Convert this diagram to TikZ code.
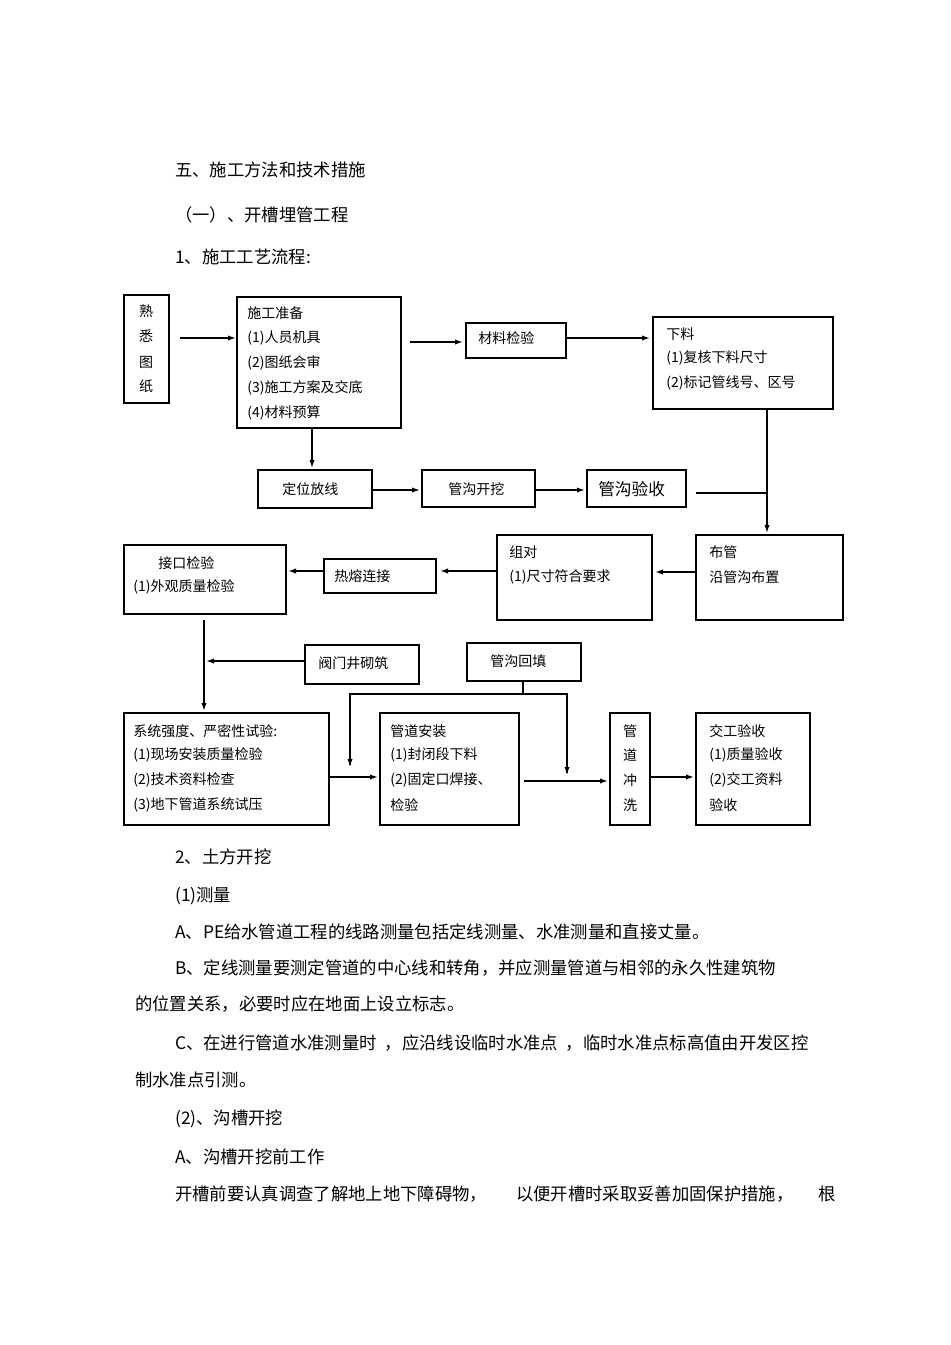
\documentclass[tikz,border=0pt]{standalone}
\usepackage{fontspec}
\setmainfont{Noto Sans CJK SC}
\usetikzlibrary{arrows.meta}
\begin{document}
\begin{tikzpicture}[x=0.75pt,y=-0.75pt,
  bx/.style={draw,line width=0.9pt,inner sep=0},
  t/.style={anchor=west,inner sep=0,font=\fontsize{10.5pt}{12pt}\selectfont},
  body/.style={anchor=west,inner sep=0,font=\fontsize{13pt}{15pt}\selectfont},
  ar/.style={line width=1.1pt,-{Latex[length=6pt,width=4pt]}},
  ln/.style={line width=1.1pt}]
\useasboundingbox[fill=white] (0,0) rectangle (950,1345);
% body text
\node[body] (h1) at (175,170) {五、施工方法和技术措施};
\node[body] (h2) at (175,215) {（一）、开槽埋管工程};
\node[body] (h3) at (175,257) {1、施工工艺流程:};
\node[body] (p1) at (175,857) {2、土方开挖};
\node[body] (p2) at (175,896) {(1)测量};
\node[body] (p3) at (175,932) {A、PE给水管道工程的线路测量包括定线测量、水准测量和直接丈量。};
\node[body] (p4) at (175,968) {B、定线测量要测定管道的中心线和转角，并应测量管道与相邻的永久性建筑物};
\node[body] (p5) at (135,1004) {的位置关系，必要时应在地面上设立标志。};
\node[body] (p6) at (175,1043) {C、在进行管道水准测量时\ \ ，应沿线设临时水准点\ \ ，临时水准点标高值由开发区控};
\node[body] (p7) at (135,1080) {制水准点引测。};
\node[body] (p8) at (175,1119) {(2)、沟槽开挖};
\node[body] (p9) at (175,1157) {A、沟槽开挖前工作};
\node[body] (p10) at (175,1194) {开槽前要认真调查了解地上地下障碍物，};
\node[body] (p11) at (516,1194) {以便开槽时采取妥善加固保护措施，};
\node[body] (p12) at (818,1194) {根};
% boxes
\draw[bx] (124,295) rectangle (169,403);
\foreach \c/\y in {熟/311,悉/336,图/362,纸/386}{\node[t,anchor=center] at (146,\y) {\c};}
\coordinate (A) at (169,338);
\draw[bx] (237,297) rectangle (401,428);
\node[t] at (247,313) {施工准备};
\node[t] at (247,338) {(1)人员机具};
\node[t] at (247,363) {(2)图纸会审};
\node[t] at (247,388) {(3)施工方案及交底};
\node[t] at (247,413) {(4)材料预算};
\draw[bx] (466,323) rectangle (566,358); \draw[line width=1.5pt] (466,358)--(566,358);
\node[t] at (478,338) {材料检验};
\draw[bx] (653,317) rectangle (833,409);
\node[t] at (666,334) {下料};
\node[t] at (666,358) {(1)复核下料尺寸};
\node[t] at (666,383) {(2)标记管线号、区号};
\draw[bx] (258,470) rectangle (372,508); \node[t] at (282,489) {定位放线};
\draw[bx] (422,470) rectangle (535,507); \node[t] at (448,489) {管沟开挖};
\draw[bx] (587,470) rectangle (686,507); \node[t,font=\fontsize{12.5pt}{14pt}\selectfont] at (598,489) {管沟验收};
\draw[bx] (696,535) rectangle (843,620);
\node[t] at (709,552) {布管}; \node[t] at (709,577) {沿管沟布置};
\draw[bx] (497,535) rectangle (652,620);
\node[t] at (509,552) {组对}; \node[t] at (509,577) {(1)尺寸符合要求};
\draw[bx] (324,559) rectangle (436,593); \node[t] at (334,576) {热熔连接};
\draw[bx] (124,545) rectangle (286,614);
\node[t] at (158,563) {接口检验}; \node[t] at (133,587) {(1)外观质量检验};
\draw[bx] (305,645) rectangle (419,684); \node[t] at (318,663) {阀门井砌筑};
\draw[bx] (467,643) rectangle (581,681); \node[t] at (490,661) {管沟回填};
\draw[bx] (124,713) rectangle (329,825); \draw[line width=1.5pt] (124,825)--(329,825);
\node[t] at (133,731) {系统强度、严密性试验:};
\node[t] at (133,755) {(1)现场安装质量检验};
\node[t] at (133,780) {(2)技术资料检查};
\node[t] at (133,805) {(3)地下管道系统试压};
\draw[bx] (380,713) rectangle (519,825);
\node[t] at (390,731) {管道安装};
\node[t] at (390,755) {(1)封闭段下料};
\node[t] at (390,780) {(2)固定口焊接、};
\node[t] at (390,805) {检验};
\draw[bx] (610,713) rectangle (650,825);
\foreach \c/\y in {管/731,道/755,冲/780,洗/805}{\node[t,anchor=center] at (630,\y) {\c};}
\draw[bx] (696,713) rectangle (810,825);
\node[t] at (709,731) {交工验收};
\node[t] at (709,755) {(1)质量验收};
\node[t] at (709,780) {(2)交工资料};
\node[t] at (709,805) {验收};
% connectors
\draw[ar] (180,338)--(236,338);
\draw[ar] (410,342)--(463,342);
\draw[ar] (566,338)--(650,338);
\draw[ar] (312,428)--(312,468);
\draw[ar] (372,490)--(420,490);
\draw[ar] (535,490)--(585,490);
\draw[ln] (696,493)--(767,493);
\draw[ar] (767,409)--(767,533);
\draw[ar] (696,572)--(655,572);
\draw[ar] (497,571)--(440,571);
\draw[ar] (324,571)--(288,571);
\draw[ar] (204,620)--(204,711);
\draw[ar] (305,661)--(206,661);
\draw[line width=0.9pt] (523,681)--(523,694);
\draw[line width=0.9pt] (350,765)--(350,694)--(567,694)--(567,773);
\draw[ar] (350,750)--(350,767);
\draw[ar] (567,760)--(567,775);
\draw[ar] (329,777)--(378,777);
\draw[ar] (524,781)--(608,781);
\draw[ar] (650,777)--(694,777);
\end{tikzpicture}
\end{document}
